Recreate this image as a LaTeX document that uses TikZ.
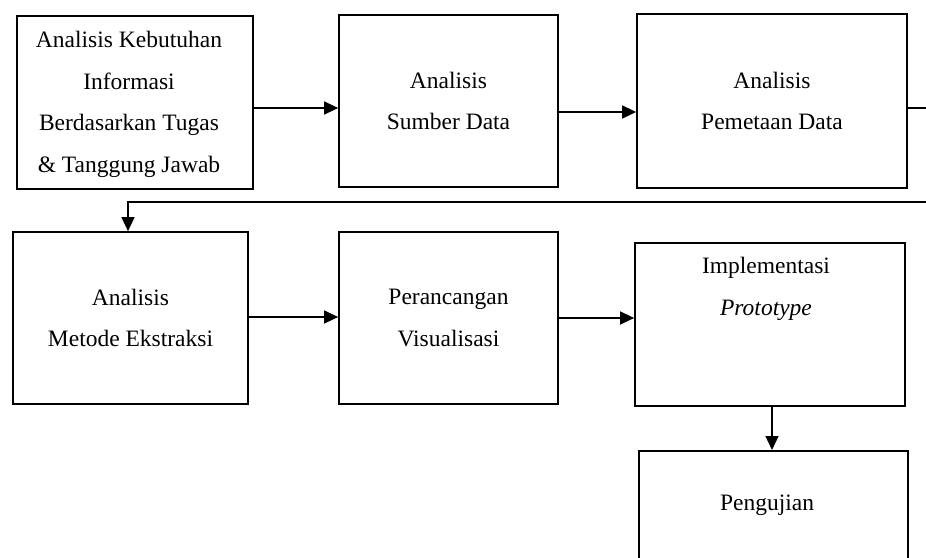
\documentclass[tikz,border=0pt]{standalone}
\usepackage{fontspec}
\setmainfont{Liberation Serif}
\usetikzlibrary{arrows.meta}
\begin{document}
\begin{tikzpicture}[x=1pt,y=-1pt,
  box/.style={draw, line width=1.7pt, inner sep=0pt, align=center,
    font=\fontsize{23.5}{41.7}\selectfont},
  txt/.style={inner sep=0pt, align=center, font=\fontsize{23.5}{41.7}\selectfont},
  arr/.style={line width=1.4pt, -{Triangle[length=14pt,width=13pt]}}]
\useasboundingbox (0,0) rectangle (926,557);
\clip (0,0) rectangle (926,557);
% top row
\node[box, minimum width=236pt, minimum height=173pt] (b1) at (135,102.5) {};
\node[txt, anchor=north] (t1) at (129,31)
  {Analisis Kebutuhan\\Informasi\\Berdasarkan Tugas\\\& Tanggung Jawab};
\node[box, minimum width=219pt, minimum height=172pt] (b2) at (448.5,101)
  {Analisis\\Sumber Data};
\node[box, minimum width=270pt, minimum height=174pt] (b3) at (772,101)
  {Analisis\\Pemetaan Data};
% second row
\node[box, minimum width=235pt, minimum height=172pt] (b4) at (130.5,318)
  {Analisis\\Metode Ekstraksi};
\node[box, minimum width=219pt, minimum height=172pt] (b5) at (448.5,318)
  {Perancangan\\Visualisasi};
\node[box, minimum width=270pt, minimum height=163pt] (b6) at (770,324.5) {};
\node[txt, anchor=north] (t6) at (766,257) {Implementasi\\\textit{Prototype}};
% bottom
\node[box, minimum width=269pt, minimum height=160pt, anchor=north] (b7) at (773.5,450) {};
\node[txt, anchor=base] (t7) at (767,510) {Pengujian};
% connectors
\draw[arr] (b1.east |- 0,108) -- (b2.west |- 0,108);
\draw[arr] (b2.east |- 0,112) -- (b3.west |- 0,112);
\coordinate (r1) at (945,108);
\coordinate (r2) at (945,202);
\coordinate (r3) at (128,202);
\draw[arr] (b3.east |- r1) -- (r1) -- (r2) -- (r3) -- (r3 |- b4.north);
\draw[arr] (b4.east |- 0,317) -- (b5.west |- 0,317);
\draw[arr] (b5.east |- 0,318) -- (b6.west |- 0,318);
\draw[arr] (b6.south -| 772,0) -- (b7.north -| 772,0);
\end{tikzpicture}
\end{document}
